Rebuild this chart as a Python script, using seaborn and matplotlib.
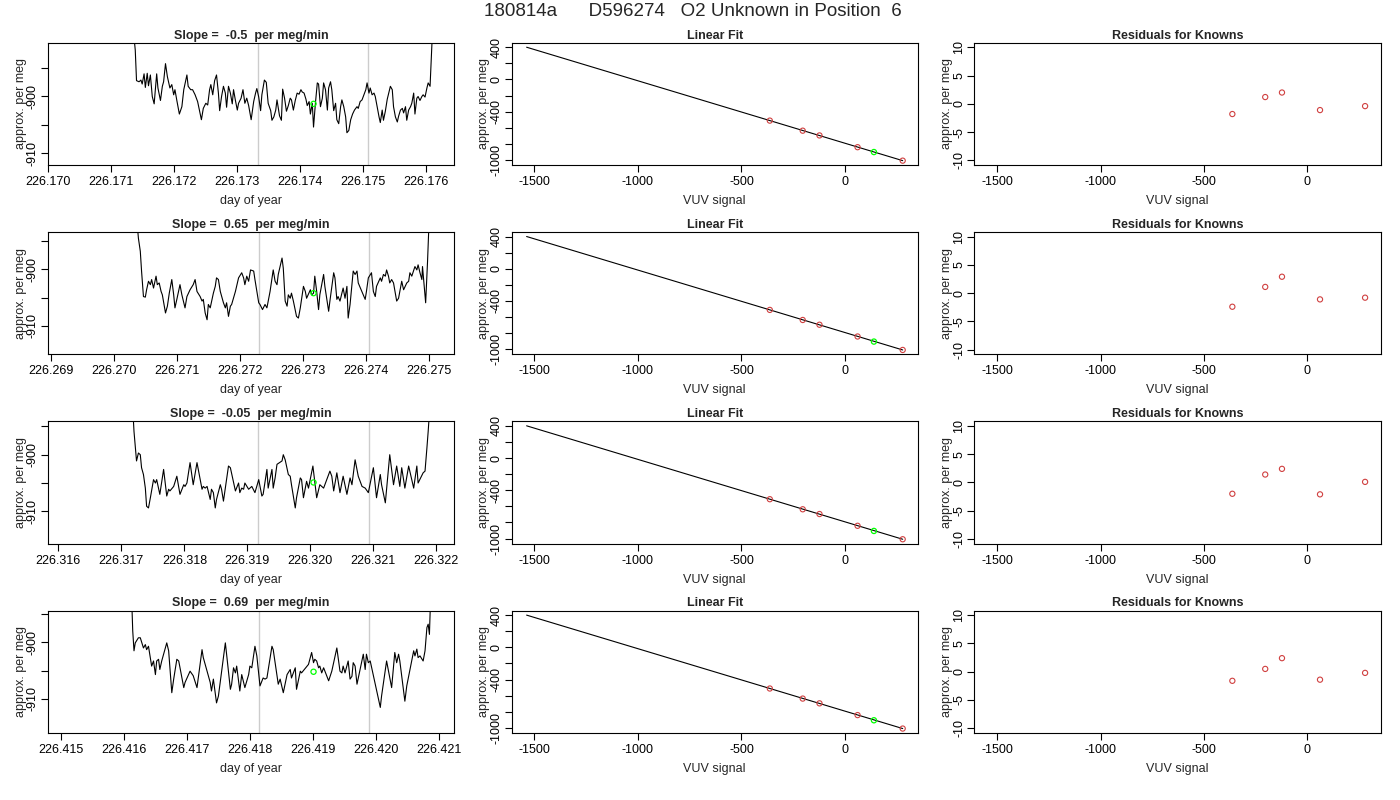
import numpy as np
import pandas as pd
import matplotlib
matplotlib.use("Agg")
import matplotlib.pyplot as plt
import seaborn as sns

sns.set_theme(style="ticks")
plt.rcParams["font.family"] = ["Liberation Sans", "DejaVu Sans"]

main_title = "180814a      D596274   O2 Unknown in Position  6"
slopes = ["-0.5", "0.65", "-0.05", "0.69"]

# traces: (day of year, approx. per meg)
trace1 = [
    (226.17133, -885.0), (226.17139, -891.8), (226.17141, -897.2), (226.17145, -897.4), (226.17148, -897.1),
    (226.17150, -897.8), (226.17153, -896.0), (226.17155, -898.4), (226.17158, -895.9), (226.17160, -898.1),
    (226.17163, -896.2), (226.17166, -900.0), (226.17169, -901.3), (226.17173, -896.0), (226.17175, -898.5),
    (226.17179, -900.7), (226.17182, -898.2), (226.17184, -897.4), (226.17187, -894.2), (226.17190, -896.5),
    (226.17194, -898.5), (226.17197, -897.9), (226.17200, -899.7), (226.17202, -898.8), (226.17205, -900.7),
    (226.17209, -903.1), (226.17213, -901.8), (226.17216, -898.8), (226.17221, -896.2), (226.17223, -898.2),
    (226.17227, -898.8), (226.17230, -898.8), (226.17234, -899.7), (226.17238, -900.9), (226.17244, -904.1),
    (226.17247, -902.1), (226.17251, -901.2), (226.17254, -901.5), (226.17257, -898.8), (226.17259, -897.9),
    (226.17262, -899.7), (226.17265, -897.2), (226.17268, -896.2), (226.17271, -899.4), (226.17273, -902.5),
    (226.17276, -900.0), (226.17279, -898.2), (226.17282, -899.4), (226.17284, -901.9), (226.17287, -898.2),
    (226.17290, -899.4), (226.17293, -901.3), (226.17295, -898.8), (226.17298, -900.7), (226.17301, -902.4),
    (226.17303, -901.2), (226.17307, -900.3), (226.17310, -898.8), (226.17313, -901.2), (226.17316, -900.3),
    (226.17319, -901.6), (226.17323, -904.1), (226.17327, -900.9), (226.17330, -899.4), (226.17332, -898.6),
    (226.17335, -900.1), (226.17338, -902.5), (226.17340, -899.7), (226.17344, -897.1), (226.17347, -897.5),
    (226.17350, -901.2), (226.17354, -902.5), (226.17356, -904.2), (226.17359, -903.6), (226.17362, -902.4),
    (226.17364, -900.6), (226.17368, -903.4), (226.17371, -904.2), (226.17373, -898.7), (226.17376, -900.3),
    (226.17379, -902.6), (226.17382, -901.6), (226.17385, -900.3), (226.17387, -900.6), (226.17390, -902.4),
    (226.17393, -900.7), (226.17396, -899.4), (226.17399, -899.6), (226.17402, -898.8), (226.17404, -899.2),
    (226.17407, -899.4), (226.17410, -900.5), (226.17412, -901.6), (226.17415, -900.9), (226.17417, -903.1),
    (226.17420, -901.2), (226.17422, -905.4), (226.17425, -901.2), (226.17428, -897.6), (226.17430, -897.8),
    (226.17433, -901.8), (226.17436, -900.3), (226.17438, -897.6), (226.17441, -898.8), (226.17444, -902.4),
    (226.17446, -898.5), (226.17449, -897.4), (226.17451, -898.8), (226.17454, -902.5), (226.17457, -901.2),
    (226.17459, -904.1), (226.17462, -904.8), (226.17465, -901.8), (226.17467, -900.6), (226.17470, -901.8),
    (226.17473, -903.6), (226.17475, -906.4), (226.17478, -906.0), (226.17481, -904.1), (226.17484, -903.1),
    (226.17487, -902.4), (226.17491, -901.8), (226.17493, -902.1), (226.17496, -900.9), (226.17499, -900.6),
    (226.17502, -899.7), (226.17505, -898.8), (226.17507, -897.6), (226.17510, -899.4), (226.17512, -898.5),
    (226.17515, -899.7), (226.17518, -899.4), (226.17520, -900.0), (226.17523, -901.8), (226.17526, -903.6),
    (226.17528, -904.6), (226.17531, -902.4), (226.17533, -904.2), (226.17536, -902.6), (226.17539, -900.5),
    (226.17544, -898.2), (226.17547, -898.8), (226.17549, -901.8), (226.17552, -903.6), (226.17555, -904.5),
    (226.17557, -903.5), (226.17560, -902.4), (226.17563, -902.1), (226.17565, -902.9), (226.17568, -901.8),
    (226.17570, -904.2), (226.17573, -902.4), (226.17576, -901.8), (226.17578, -901.2), (226.17581, -899.4),
    (226.17583, -903.1), (226.17586, -900.3), (226.17588, -900.0), (226.17591, -900.7), (226.17594, -900.0),
    (226.17596, -899.7), (226.17599, -900.1), (226.17602, -898.5), (226.17604, -897.6), (226.17607, -898.2),
    (226.17610, -890.6), (226.17611, -884.7),
]

trace2 = [
    (226.27033, -886.8), (226.27039, -894.5), (226.27042, -896.8), (226.27044, -900.3), (226.27047, -904.8),
    (226.27050, -904.9), (226.27052, -903.6), (226.27055, -902.1), (226.27058, -902.7), (226.27060, -901.8),
    (226.27063, -903.3), (226.27067, -901.2), (226.27069, -902.7), (226.27072, -902.4), (226.27075, -903.9),
    (226.27077, -904.5), (226.27082, -907.7), (226.27085, -906.5), (226.27088, -904.2), (226.27092, -901.8),
    (226.27095, -904.5), (226.27097, -906.8), (226.27100, -905.3), (226.27105, -902.7), (226.27108, -904.5),
    (226.27113, -906.8), (226.27116, -904.8), (226.27121, -903.6), (226.27126, -902.7), (226.27129, -901.8),
    (226.27132, -903.9), (226.27137, -904.8), (226.27140, -905.6), (226.27142, -905.3), (226.27145, -907.7),
    (226.27148, -908.9), (226.27150, -906.2), (226.27153, -906.8), (226.27158, -904.2), (226.27161, -903.0),
    (226.27163, -901.5), (226.27166, -901.8), (226.27169, -903.9), (226.27174, -905.9), (226.27177, -906.8),
    (226.27179, -905.9), (226.27182, -908.3), (226.27185, -906.5), (226.27187, -906.2), (226.27193, -903.9),
    (226.27198, -901.5), (226.27203, -900.6), (226.27206, -901.5), (226.27208, -902.7), (226.27211, -901.2),
    (226.27214, -902.1), (226.27217, -900.1), (226.27222, -900.3), (226.27224, -901.8), (226.27227, -903.9),
    (226.27230, -905.9), (226.27232, -906.2), (226.27236, -907.1), (226.27240, -906.2), (226.27243, -906.8),
    (226.27248, -903.9), (226.27253, -900.1), (226.27256, -902.1), (226.27259, -902.7), (226.27261, -900.9),
    (226.27267, -898.0), (226.27269, -899.8), (226.27272, -905.6), (226.27275, -906.5), (226.27277, -904.5),
    (226.27280, -905.1), (226.27282, -904.2), (226.27285, -905.6), (226.27290, -908.3), (226.27293, -908.6),
    (226.27296, -906.8), (226.27301, -903.0), (226.27304, -903.9), (226.27306, -905.1), (226.27312, -903.6),
    (226.27314, -904.5), (226.27317, -904.2), (226.27319, -901.2), (226.27322, -903.9), (226.27325, -907.1),
    (226.27327, -904.5), (226.27333, -900.9), (226.27335, -903.0), (226.27341, -907.4), (226.27343, -905.6),
    (226.27349, -900.6), (226.27351, -901.5), (226.27354, -905.3), (226.27356, -904.8), (226.27359, -905.6),
    (226.27364, -903.3), (226.27367, -905.1), (226.27370, -903.0), (226.27372, -908.6), (226.27375, -906.2),
    (226.27380, -900.3), (226.27383, -900.9), (226.27386, -900.3), (226.27388, -902.4), (226.27396, -904.5),
    (226.27399, -905.3), (226.27401, -903.9), (226.27404, -901.5), (226.27409, -900.6), (226.27412, -903.9),
    (226.27415, -904.8), (226.27417, -903.0), (226.27423, -901.5), (226.27425, -902.1), (226.27428, -900.9),
    (226.27431, -901.2), (226.27433, -900.1), (226.27436, -901.2), (226.27438, -902.4), (226.27441, -901.8),
    (226.27444, -902.4), (226.27449, -905.6), (226.27452, -905.1), (226.27457, -902.1), (226.27460, -903.6),
    (226.27465, -902.4), (226.27468, -902.1), (226.27470, -900.6), (226.27473, -901.2), (226.27478, -899.5),
    (226.27481, -900.1), (226.27483, -899.2), (226.27486, -900.6), (226.27489, -901.8), (226.27490, -899.5),
    (226.27495, -905.9), (226.27498, -898.6), (226.27500, -892.7), (226.27501, -886.8),
]

trace3 = [
    (226.31716, -887.6), (226.31720, -895.9), (226.31724, -901.1), (226.31727, -899.7), (226.31730, -900.0),
    (226.31732, -902.3), (226.31735, -903.5), (226.31738, -905.9), (226.31740, -909.1), (226.31743, -909.4),
    (226.31746, -907.6), (226.31751, -904.4), (226.31754, -905.0), (226.31756, -904.4), (226.31761, -907.0),
    (226.31767, -902.6), (226.31772, -907.3), (226.31775, -906.1), (226.31777, -906.4), (226.31783, -905.6),
    (226.31788, -903.8), (226.31793, -907.0), (226.31799, -905.3), (226.31801, -905.6), (226.31804, -905.0),
    (226.31809, -901.4), (226.31814, -905.3), (226.31820, -901.4), (226.31828, -906.1), (226.31830, -905.6),
    (226.31833, -905.9), (226.31836, -905.6), (226.31841, -907.9), (226.31843, -906.1), (226.31846, -906.7),
    (226.31849, -909.4), (226.31851, -907.9), (226.31857, -905.3), (226.31859, -906.1), (226.31862, -908.2),
    (226.31870, -902.0), (226.31873, -902.3), (226.31881, -906.4), (226.31886, -905.0), (226.31888, -906.7),
    (226.31891, -905.9), (226.31894, -906.1), (226.31896, -905.0), (226.31902, -906.1), (226.31907, -905.6),
    (226.31912, -906.7), (226.31918, -904.4), (226.31923, -907.3), (226.31925, -907.0), (226.31931, -902.6),
    (226.31933, -905.9), (226.31939, -902.6), (226.31941, -905.9), (226.31944, -904.1), (226.31947, -901.7),
    (226.31955, -901.1), (226.31957, -900.0), (226.31960, -900.9), (226.31965, -903.5), (226.31968, -903.8),
    (226.31970, -905.3), (226.31976, -909.4), (226.31978, -907.6), (226.31984, -904.1), (226.31986, -904.4),
    (226.31989, -907.6), (226.31994, -904.7), (226.31997, -905.9), (226.32004, -902.0), (226.32010, -907.6),
    (226.32015, -905.3), (226.32021, -905.9), (226.32026, -904.4), (226.32031, -902.9), (226.32034, -903.8),
    (226.32037, -906.4), (226.32042, -903.2), (226.32047, -906.7), (226.32052, -903.8), (226.32058, -907.0),
    (226.32063, -904.1), (226.32066, -905.3), (226.32071, -900.9), (226.32076, -903.8), (226.32082, -905.6),
    (226.32087, -905.9), (226.32092, -906.7), (226.32100, -902.3), (226.32105, -907.6), (226.32111, -903.5),
    (226.32113, -905.3), (226.32119, -908.5), (226.32126, -900.0), (226.32132, -905.3), (226.32137, -902.0),
    (226.32142, -905.6), (226.32145, -902.3), (226.32150, -905.9), (226.32156, -902.0), (226.32164, -905.9),
    (226.32169, -902.0), (226.32171, -905.0), (226.32179, -903.2), (226.32182, -902.9), (226.32185, -898.8),
    (226.32187, -895.9), (226.32192, -887.6),
]

trace4 = [
    (226.41611, -888.0), (226.41614, -898.0), (226.41616, -901.5), (226.41618, -900.1), (226.41623, -899.2),
    (226.41626, -899.2), (226.41631, -901.0), (226.41634, -900.4), (226.41636, -901.3), (226.41639, -900.7),
    (226.41644, -904.2), (226.41647, -903.3), (226.41650, -905.7), (226.41652, -903.3), (226.41655, -903.0),
    (226.41657, -904.8), (226.41660, -903.3), (226.41668, -900.1), (226.41671, -901.5), (226.41676, -908.9),
    (226.41679, -906.5), (226.41684, -903.0), (226.41687, -903.3), (226.41695, -908.0), (226.41697, -907.1),
    (226.41705, -905.1), (226.41710, -905.9), (226.41716, -908.0), (226.41724, -901.3), (226.41726, -902.7),
    (226.41732, -905.1), (226.41737, -907.1), (226.41739, -908.6), (226.41742, -906.5), (226.41747, -910.7),
    (226.41750, -909.5), (226.41761, -900.1), (226.41763, -902.1), (226.41769, -908.3), (226.41771, -907.4),
    (226.41774, -904.5), (226.41777, -905.4), (226.41779, -904.2), (226.41784, -908.6), (226.41787, -905.7),
    (226.41792, -908.0), (226.41798, -905.7), (226.41800, -904.2), (226.41803, -904.5), (226.41808, -900.7),
    (226.41811, -902.4), (226.41816, -907.7), (226.41821, -906.3), (226.41824, -906.5), (226.41827, -906.3),
    (226.41835, -900.7), (226.41837, -901.3), (226.41845, -907.4), (226.41848, -906.5), (226.41853, -908.9),
    (226.41859, -905.7), (226.41864, -904.8), (226.41866, -906.3), (226.41872, -904.5), (226.41874, -908.3),
    (226.41880, -905.1), (226.41882, -905.4), (226.41893, -903.9), (226.41898, -901.8), (226.41901, -903.6),
    (226.41903, -903.0), (226.41906, -903.3), (226.41909, -904.5), (226.41911, -904.2), (226.41914, -905.4),
    (226.41917, -904.5), (226.41925, -906.8), (226.41930, -905.1), (226.41938, -901.0), (226.41943, -905.1),
    (226.41946, -905.4), (226.41948, -904.2), (226.41951, -905.4), (226.41956, -903.3), (226.41959, -906.5),
    (226.41962, -906.0), (226.41964, -903.6), (226.41967, -904.2), (226.41970, -907.4), (226.41980, -902.1),
    (226.41983, -904.8), (226.41985, -902.1), (226.41988, -903.6), (226.41991, -903.3), (226.42007, -911.5),
    (226.42009, -909.5), (226.42017, -903.3), (226.42025, -908.0), (226.42030, -901.8), (226.42033, -903.6),
    (226.42036, -902.1), (226.42038, -903.3), (226.42046, -910.4), (226.42049, -907.7), (226.42060, -901.5),
    (226.42062, -902.4), (226.42065, -901.2), (226.42067, -902.7), (226.42070, -902.4), (226.42075, -903.3),
    (226.42078, -901.5), (226.42081, -897.4), (226.42083, -896.8), (226.42085, -898.6), (226.42088, -888.0),
]

traces = [trace1, trace2, trace3, trace4]

# axis settings per row
day_ticks_first = [226.170, 226.269, 226.316, 226.415]
day_left = [226.17000, 226.26895, 226.31583, 226.41479]
day_span = 0.00645
gray_marks = [(226.17334, 226.17508), (226.27230, 226.27405), (226.31917, 226.32093), (226.41814, 226.41989)]
unknown_day = [226.17422, 226.27317, 226.32005, 226.41901]
unknown_val = [-901.3, -904.2, -904.9, -905.2]

# linear fit and residuals
known_vuv = [-363, -204, -123, 61, 279]
known_val = [-511, -636, -695, -841, -1008]
unknown_vuv = 140
fit_x = [-1538, 279]
fit_y = [400, -1008]
residuals = [
    [-1.8, 1.2, 2.0, -1.1, -0.4],
    [-2.4, 1.1, 2.9, -1.1, -0.8],
    [-2.0, 1.4, 2.4, -2.1, 0.1],
    [-1.6, 0.5, 2.4, -1.4, -0.2],
]

W, H = 1400, 800
fig = plt.figure(figsize=(14, 8), dpi=100)
col_left = [47.7, 511.5, 974.3]
box_w, box_h = 406.3, 122.3


def style_axes(ax):
    for sp in ax.spines.values():
        sp.set_visible(True)
        sp.set_color("black")
        sp.set_linewidth(0.8)
    ax.tick_params(direction="out", length=5, width=0.8, color="black",
                   labelsize=9, labelcolor="black", pad=3)
    ax.tick_params(axis="y", pad=1.5)
    ax.set_facecolor("white")


def rot_yticks(ax, ticks, labels):
    ax.set_yticks(ticks)
    ax.set_yticklabels(labels, rotation=90, va="center")


for r in range(4):
    top = 42.7 + r * 189.3
    axs = []
    for c in range(3):
        ax = fig.add_axes([col_left[c] / W, 1 - (top + box_h) / H, box_w / W, box_h / H])
        style_axes(ax)
        axs.append(ax)

    # time series
    ax = axs[0]
    df = pd.DataFrame(traces[r], columns=["day", "val"])
    for g in gray_marks[r]:
        ax.axvline(g, color="#cccccc", lw=1.0, zorder=0)
    sns.lineplot(data=df, x="day", y="val", ax=ax, color="black", lw=0.8,
                 sort=False, estimator=None)
    sns.scatterplot(x=[unknown_day[r]], y=[unknown_val[r]], ax=ax, s=14,
                    facecolor="none", edgecolor="#00ff00", linewidth=0.9, zorder=3)
    ax.set_xlim(day_left[r], day_left[r] + day_span)
    ax.set_ylim(unknown_val[r] - 10.8, unknown_val[r] + 10.8)
    xt = np.round(day_ticks_first[r] + 0.001 * np.arange(7), 3)
    ax.set_xticks(xt)
    ax.set_xticklabels([f"{v:.3f}" for v in xt])
    rot_yticks(ax, [-895, -900, -905, -910], ["", "-900", "", "-910"])
    ax.set_xlabel("day of year", fontsize=9, labelpad=5)
    ax.set_ylabel("approx. per meg", fontsize=9, labelpad=0)
    ax.set_title(f"Slope =  {slopes[r]}  per meg/min", fontsize=9, fontweight="bold", pad=3)

    # linear fit
    ax = axs[1]
    sns.lineplot(x=fit_x, y=fit_y, ax=ax, color="black", lw=0.8, sort=False, estimator=None)
    sns.scatterplot(x=known_vuv, y=known_val, ax=ax, s=14, facecolor="none",
                    edgecolor="#d04040", linewidth=0.8, zorder=3)
    sns.scatterplot(x=[unknown_vuv], y=[unknown_val[r]], ax=ax, s=14, facecolor="none",
                    edgecolor="#00ff00", linewidth=0.9, zorder=3)
    ax.set_xlim(-1611, 352)
    ax.set_ylim(-1062, 456)
    ax.set_xticks([-1500, -1000, -500, 0])
    ax.set_xticklabels(["-1500", "-1000", "-500", "0"])
    rot_yticks(ax, [400, 200, 0, -200, -400, -600, -800, -1000],
               ["400", "", "0", "", "-400", "", "", "-1000"])
    ax.set_xlabel("VUV signal", fontsize=9, labelpad=5)
    ax.set_ylabel("approx. per meg", fontsize=9, labelpad=0)
    ax.set_title("Linear Fit", fontsize=9, fontweight="bold", pad=3)

    # residuals
    ax = axs[2]
    sns.scatterplot(x=known_vuv, y=residuals[r], ax=ax, s=14, facecolor="none",
                    edgecolor="#d04040", linewidth=0.8, zorder=3)
    ax.set_xlim(-1611, 354)
    ax.set_ylim(-10.8, 10.8)
    ax.set_xticks([-1500, -1000, -500, 0])
    ax.set_xticklabels(["-1500", "-1000", "-500", "0"])
    rot_yticks(ax, [-10, -5, 0, 5, 10], ["-10", "-5", "0", "5", "10"])
    ax.set_xlabel("VUV signal", fontsize=9, labelpad=5)
    ax.set_ylabel("approx. per meg", fontsize=9, labelpad=0)
    ax.set_title("Residuals for Knowns", fontsize=9, fontweight="bold", pad=3)

fig.text(693 / W, 1 - 12 / H, main_title, ha="center", va="center", fontsize=13.5)

fig.savefig("out.png", dpi=100, facecolor="white")
